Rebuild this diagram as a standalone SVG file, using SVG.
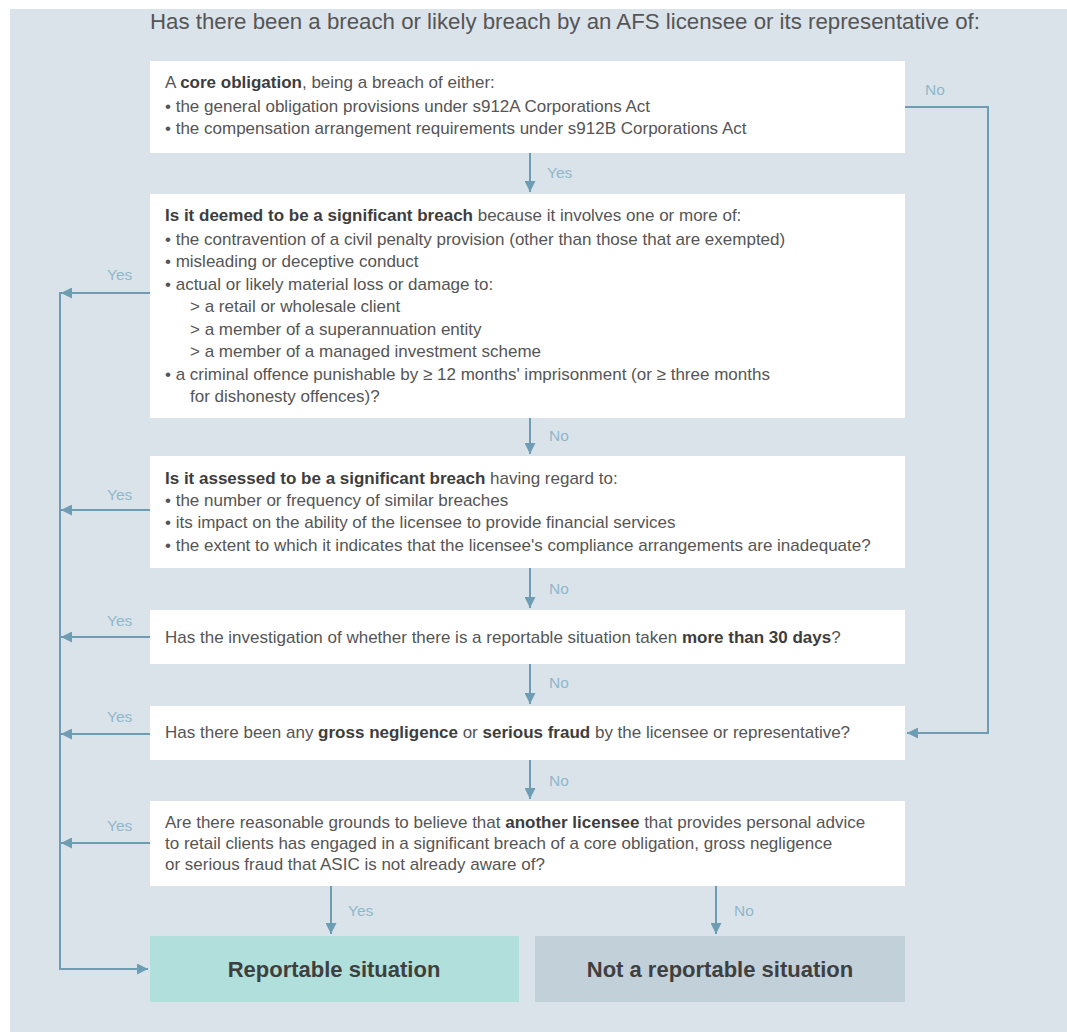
<svg xmlns="http://www.w3.org/2000/svg" width="1067" height="1032" viewBox="0 0 1067 1032">
<style>
.bg{fill:#dbe3ea}
.box{fill:#ffffff}
.t{font-family:"Liberation Sans",Arial,sans-serif;font-size:17px;fill:#555555}
.b{font-weight:bold;fill:#3d3d3d}
.title{font-family:"Liberation Sans",Arial,sans-serif;font-size:22px;fill:#555555}
.lbl{font-family:"Liberation Sans",Arial,sans-serif;font-size:15.5px;fill:#8fb7ca}
.end{font-family:"Liberation Sans",Arial,sans-serif;font-size:22px;font-weight:bold;fill:#3f3f3f}
.c{fill:none;stroke:#6d9db3;stroke-width:2}
</style>
<defs>
<marker id="ah" viewBox="0 0 10 10" refX="10" refY="5" markerWidth="11" markerHeight="11" markerUnits="userSpaceOnUse" orient="auto">
<path d="M0,0 L10,5 L0,10 z" fill="#6d9db3"/>
</marker>
</defs>
<rect class="bg" x="10" y="9" width="1057" height="1023"/>
<text class="title" x="150" y="29" textLength="830" lengthAdjust="spacingAndGlyphs">Has there been a breach or likely breach by an AFS licensee or its representative of:</text>

<g id="n1">
<rect class="box" x="150" y="61" width="755" height="92"/>
<text class="t" x="165" y="88">A <tspan class="b">core obligation</tspan>, being a breach of either:</text>
<text class="t" x="165" y="112">• the general obligation provisions under s912A Corporations Act</text>
<text class="t" x="165" y="134">• the compensation arrangement requirements under s912B Corporations Act</text>
</g>

<g id="n2">
<rect class="box" x="150" y="194" width="755" height="224"/>
<text class="t" x="165" y="221"><tspan class="b">Is it deemed to be a significant breach</tspan> because it involves one or more of:</text>
<text class="t" x="165" y="245">• the contravention of a civil penalty provision (other than those that are exempted)</text>
<text class="t" x="165" y="267">• misleading or deceptive conduct</text>
<text class="t" x="165" y="290">• actual or likely material loss or damage to:</text>
<text class="t" x="190" y="312">&gt; a retail or wholesale client</text>
<text class="t" x="190" y="335">&gt; a member of a superannuation entity</text>
<text class="t" x="190" y="357">&gt; a member of a managed investment scheme</text>
<text class="t" x="165" y="380">• a criminal offence punishable by ≥ 12 months' imprisonment (or ≥ three months</text>
<text class="t" x="190" y="402">for dishonesty offences)?</text>
</g>

<g id="n3">
<rect class="box" x="150" y="456" width="755" height="112"/>
<text class="t" x="165" y="484"><tspan class="b">Is it assessed to be a significant breach</tspan> having regard to:</text>
<text class="t" x="165" y="506">• the number or frequency of similar breaches</text>
<text class="t" x="165" y="528">• its impact on the ability of the licensee to provide financial services</text>
<text class="t" x="165" y="551">• the extent to which it indicates that the licensee's compliance arrangements are inadequate?</text>
</g>

<g id="n4">
<rect class="box" x="150" y="610" width="755" height="54"/>
<text class="t" x="165" y="643">Has the investigation of whether there is a reportable situation taken <tspan class="b">more than 30 days</tspan>?</text>
</g>

<g id="n5">
<rect class="box" x="150" y="706" width="755" height="54"/>
<text class="t" x="165" y="738">Has there been any <tspan class="b">gross negligence</tspan> or <tspan class="b">serious fraud</tspan> by the licensee or representative?</text>
</g>

<g id="n6">
<rect class="box" x="150" y="801" width="755" height="85"/>
<text class="t" x="165" y="828">Are there reasonable grounds to believe that <tspan class="b">another licensee</tspan> that provides personal advice</text>
<text class="t" x="165" y="849">to retail clients has engaged in a significant breach of a core obligation, gross negligence</text>
<text class="t" x="165" y="870">or serious fraud that ASIC is not already aware of?</text>
</g>

<g id="n7">
<rect x="150" y="936" width="369" height="66" fill="#b1dfdb"/>
<text class="end" x="334" y="977" text-anchor="middle">Reportable situation</text>
</g>

<g id="n8">
<rect x="535" y="936" width="370" height="66" fill="#c2d0d9"/>
<text class="end" x="720" y="977" text-anchor="middle">Not a reportable situation</text>
</g>

<g id="connectors">
<path class="c" d="M530,153 V192" marker-end="url(#ah)"/>
<path class="c" d="M530,418 V454" marker-end="url(#ah)"/>
<path class="c" d="M530,568 V608" marker-end="url(#ah)"/>
<path class="c" d="M530,664 V704" marker-end="url(#ah)"/>
<path class="c" d="M530,760 V799" marker-end="url(#ah)"/>
<path class="c" d="M331,886 V934" marker-end="url(#ah)"/>
<path class="c" d="M716,886 V934" marker-end="url(#ah)"/>
<path class="c" d="M905,107 H988 V733 H907" marker-end="url(#ah)"/>
<path class="c" d="M150,293 H61" marker-end="url(#ah)"/>
<path class="c" d="M60,292 V969 H148" marker-end="url(#ah)"/>
<path class="c" d="M150,510 H61" marker-end="url(#ah)"/>
<path class="c" d="M150,637 H61" marker-end="url(#ah)"/>
<path class="c" d="M150,734 H61" marker-end="url(#ah)"/>
<path class="c" d="M150,843 H61" marker-end="url(#ah)"/>
<text class="lbl" x="547" y="178">Yes</text>
<text class="lbl" x="549" y="441">No</text>
<text class="lbl" x="549" y="594">No</text>
<text class="lbl" x="549" y="688">No</text>
<text class="lbl" x="549" y="786">No</text>
<text class="lbl" x="348" y="916">Yes</text>
<text class="lbl" x="734" y="916">No</text>
<text class="lbl" x="925" y="95">No</text>
<text class="lbl" x="107" y="280">Yes</text>
<text class="lbl" x="107" y="500">Yes</text>
<text class="lbl" x="107" y="626">Yes</text>
<text class="lbl" x="107" y="722">Yes</text>
<text class="lbl" x="107" y="831">Yes</text>
</g>
</svg>
